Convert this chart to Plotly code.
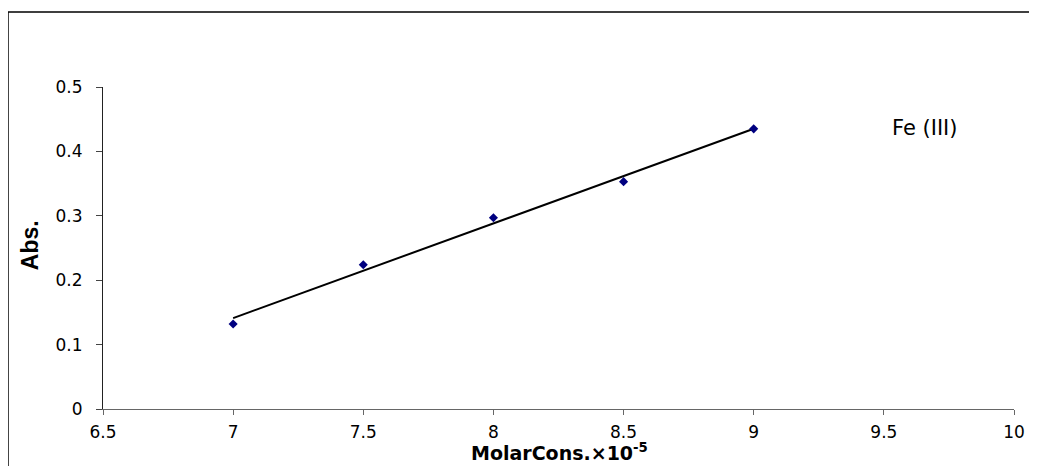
import numpy as np
import plotly.graph_objects as go

conc = [7.0, 7.5, 8.0, 8.5, 9.0]
absorb = [0.132, 0.224, 0.297, 0.353, 0.435]
x_ticks = [6.5, 7, 7.5, 8, 8.5, 9, 9.5, 10]
y_ticks = [0, 0.1, 0.2, 0.3, 0.4, 0.5]

slope, intercept = np.polyfit(conc, absorb, 1)
fit_x = [min(conc), max(conc)]
fit_y = [slope * v + intercept for v in fit_x]

fig = go.Figure()
fig.add_trace(go.Scatter(x=fit_x, y=fit_y, mode="lines",
                         line=dict(color="black", width=2), showlegend=False))
fig.add_trace(go.Scatter(x=conc, y=absorb, mode="markers",
                         marker=dict(symbol="diamond", color="#000080", size=7),
                         showlegend=False))

tick_font = dict(family="DejaVu Sans, Liberation Sans, sans-serif", size=17, color="black")
fig.update_layout(
    width=1037, height=466,
    margin=dict(l=95, r=31, t=79, b=65),
    paper_bgcolor="white", plot_bgcolor="white",
    xaxis=dict(range=[6.5, 10], tickvals=x_ticks, ticktext=[str(v) for v in x_ticks],
               showgrid=False, zeroline=False, showline=True, linecolor="#666", linewidth=1,
               ticks="outside", ticklen=5, tickcolor="#666", tickfont=tick_font,
               ticklabelstandoff=3),
    yaxis=dict(range=[0, 0.5], tickvals=y_ticks, ticktext=[str(v) for v in y_ticks],
               showgrid=False, zeroline=False, showline=True, linecolor="#222", linewidth=1,
               ticks="outside", ticklen=6, tickcolor="#444", tickfont=tick_font,
               ticklabelstandoff=10),
    annotations=[
        dict(text="Fe (III)", xref="paper", yref="paper", x=0.902, y=0.873,
             showarrow=False, xanchor="center", yanchor="middle",
             font=dict(family="DejaVu Sans, Liberation Sans, sans-serif", size=21, color="black")),
        dict(text="<b>MolarCons.×10<sup>-5</sup></b>", xref="paper", yref="paper",
             x=0.5016, y=-0.132, showarrow=False, xanchor="center", yanchor="middle",
             font=dict(family="DejaVu Sans, Liberation Sans, sans-serif", size=19, color="black")),
        dict(text="<b>Abs.</b>", xref="paper", yref="paper", x=-0.0801, y=0.509,
             textangle=-90, showarrow=False, xanchor="center", yanchor="middle",
             font=dict(family="Liberation Sans, Arial, sans-serif", size=23, color="black")),
    ],
    shapes=[dict(type="rect", xref="paper", yref="paper", x0=-0.1043, y0=-0.5, x1=1.2, y1=1.2329,
                 line=dict(color="black", width=1.5), fillcolor="rgba(0,0,0,0)", layer="below")],
)

fig.write_html("out.html")
